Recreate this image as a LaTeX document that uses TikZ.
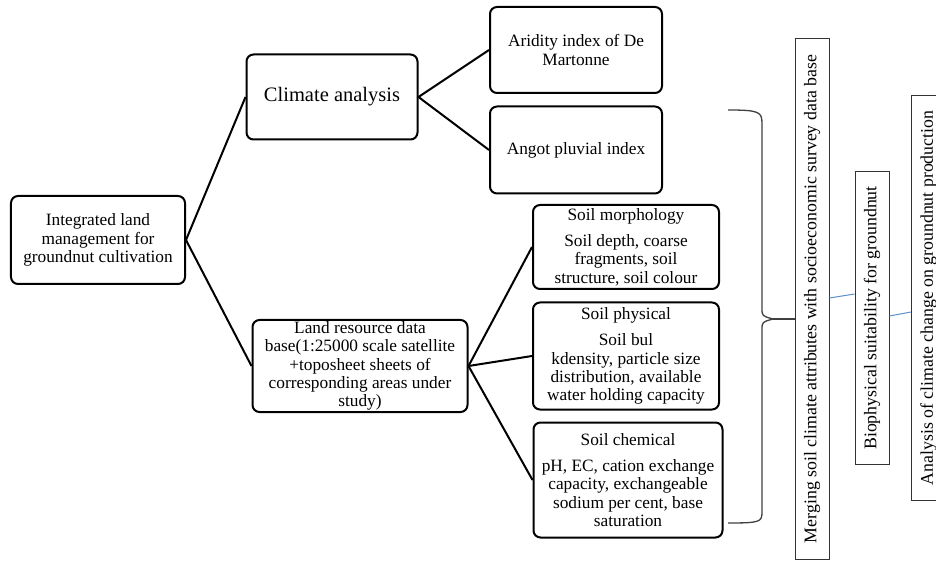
\documentclass[tikz,border=0pt]{standalone}
\usepackage{fontspec}
\setmainfont{Liberation Serif}
\begin{document}
\begin{tikzpicture}[x=1bp,y=-1bp,
  rbox/.style={draw=black, line width=2bp, rounded corners=7bp, fill=white, align=center, inner sep=1bp, font=\fontsize{17.3bp}{18.3bp}\selectfont},
  vbox/.style={draw=black!80, line width=1bp, rotate=90, inner sep=1bp, font=\fontsize{17.8bp}{19bp}\selectfont},
  conn/.style={line width=2bp, black},
  brace/.style={line width=1.3bp, black!75},
  blueline/.style={line width=1bp, color={rgb,255:red,91;green,143;blue,201}}]
\useasboundingbox (0,0) rectangle (936,561);
\node[rbox, minimum width=174bp, minimum height=88bp] (integ) at (98,240) {Integrated land\\management for\\groundnut cultivation};
\node[rbox, minimum width=171bp, minimum height=85bp, font=\fontsize{20.5bp}{23bp}\selectfont] (climate) at (332,97) {Climate analysis};
\node[rbox, minimum width=172bp, minimum height=86bp] (aridity) at (576,50) {Aridity index of De\\Martonne};
\node[rbox, minimum width=172bp, minimum height=87bp] (angot) at (576,150) {Angot pluvial index};
\node[rbox, minimum width=215bp, minimum height=92bp] (land) at (360,366) {Land resource data\\base(1:25000 scale satellite\\+toposheet sheets of\\corresponding areas under\\study)};
\node[rbox, minimum width=186bp, minimum height=84bp] (morph) at (626,247) {Soil morphology\\[8bp]Soil depth, coarse\\fragments, soil\\structure, soil colour};
\node[rbox, minimum width=186bp, minimum height=107bp] (phys) at (626,356) {Soil physical\\[8bp]Soil bul\\kdensity, particle size\\distribution, available\\water holding capacity};
\node[rbox, minimum width=189bp, minimum height=115bp] (chem) at (628,480) {Soil chemical\\[8bp]pH, EC, cation exchange\\capacity, exchangeable\\sodium per cent, base\\saturation};
\node[vbox, minimum width=520bp, minimum height=34bp] (merging) at (812,299) {Merging soil climate attributes with socioeconomic survey data base};
\node[vbox, minimum width=292bp, minimum height=34bp] (bio) at (872,318) {Biophysical suitability for groundnut};
\node[vbox, minimum width=405bp, minimum height=34bp, anchor=north] (analysis) at (911,298) {Analysis of climate change on groundnut production};
% connectors
\draw[conn] (integ.east) -- (climate.west);
\draw[conn] (integ.east) -- (land.west);
\draw[conn] (climate.east) -- (aridity.west);
\draw[conn] (climate.east) -- (angot.west);
\draw[conn] (land.east) -- (morph.west);
\draw[conn] (land.east) -- (phys.west);
\draw[conn] (land.east) -- (chem.west);
% brace
\coordinate (brtip) at (773,319);
\draw[brace] (728,110) .. controls (760,110) and (762,112) .. (762,124) -- (762,308) .. controls (762,316) .. (brtip);
\draw[brace] (brtip) .. controls (762,322) .. (762,330) -- (762,512) .. controls (762,522) and (760,523) .. (728,523);
\draw[brace] (brtip) -- (brtip -| merging.north);
% blue links
\draw[blueline] (merging.south |- 0,298) -- (bio.north |- 0,294);
\draw[blueline] (bio.south |- 0,316) -- (analysis.north |- 0,312);
\end{tikzpicture}
\end{document}
